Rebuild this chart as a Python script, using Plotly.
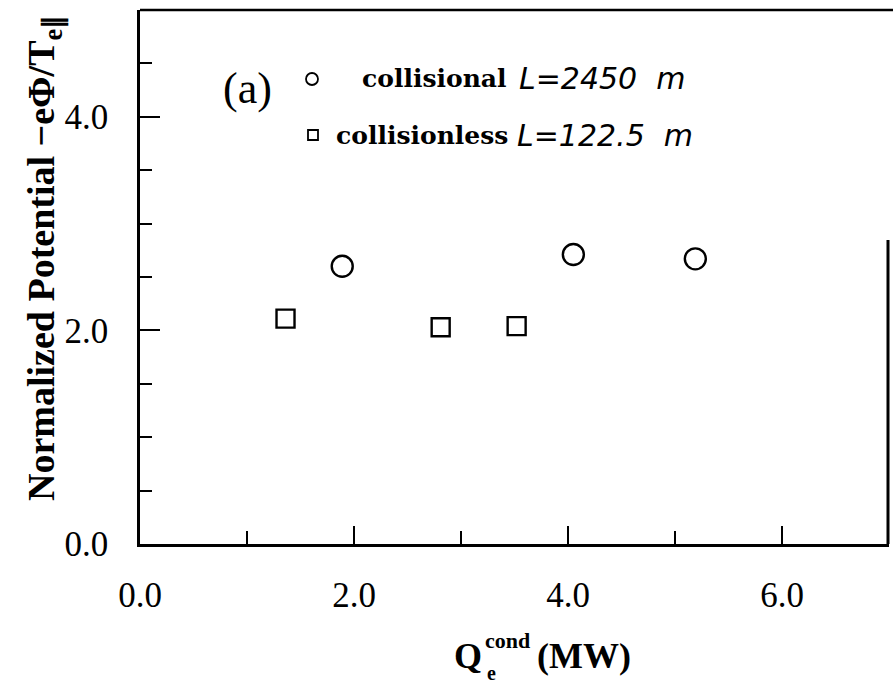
import plotly.graph_objects as go

# Data
coll_x = [1.89, 4.05, 5.19]
coll_y = [2.60, 2.71, 2.67]
colless_x = [1.36, 2.81, 3.52]
colless_y = [2.11, 2.03, 2.04]

x_ticks = [0, 2, 4, 6]
x_labels = ["0.0", "2.0", "4.0", "6.0"]
y_ticks = [0, 2, 4]
y_labels = ["0.0", "2.0", "4.0"]

W, H = 893, 687
L, R, T, B = 140, 4, 10, 143
PW, PH = W - L - R, H - T - B


def px(xp):
    return (xp - L) / PW


def py(yp):
    return (H - B - yp) / PH


fig = go.Figure()
fig.add_trace(go.Scatter(
    x=coll_x, y=coll_y, mode="markers", name="collisional",
    marker=dict(symbol="circle-open", size=21, color="black", line=dict(width=2.4, color="black")),
))
fig.add_trace(go.Scatter(
    x=colless_x, y=colless_y, mode="markers", name="collisionless",
    marker=dict(symbol="square-open", size=18, color="black", line=dict(width=2.4, color="black")),
))

tickfont = dict(family="Liberation Serif", size=35, color="black")

fig.update_xaxes(
    range=[0, 7], showline=True, linewidth=2.5, linecolor="black", mirror=False,
    showgrid=False, zeroline=False,
    tickmode="array", tickvals=x_ticks, ticktext=x_labels,
    ticks="inside", ticklen=18, tickwidth=2, tickcolor="black",
    minor=dict(dtick=1, ticks="inside", ticklen=13, tickwidth=2, tickcolor="black"),
    tickfont=tickfont, ticklabelstandoff=18,
)
fig.update_yaxes(
    range=[0, 5], showline=True, linewidth=2.5, linecolor="black", mirror=False,
    showgrid=False, zeroline=False,
    tickmode="array", tickvals=y_ticks, ticktext=y_labels,
    ticks="inside", ticklen=20, tickwidth=2, tickcolor="black",
    minor=dict(dtick=0.5, ticks="inside", ticklen=12, tickwidth=2, tickcolor="black"),
    tickfont=tickfont, ticklabelstandoff=22,
)

shapes = [
    # top frame line (runs to the image edge)
    dict(type="line", xref="paper", yref="paper", x0=0, x1=px(893), y0=1, y1=1,
         line=dict(color="black", width=2.5)),
    # partial right frame line
    dict(type="line", xref="paper", yref="paper", x0=px(888), x1=px(888), y0=0, y1=py(240),
         line=dict(color="black", width=3)),
    # legend symbols
    dict(type="circle", xref="paper", yref="paper",
         x0=px(306), x1=px(318), y0=py(85), y1=py(73),
         line=dict(color="black", width=1.8)),
    dict(type="rect", xref="paper", yref="paper",
         x0=px(308), x1=px(318), y0=py(140), y1=py(130),
         line=dict(color="black", width=1.8)),
]

serif_b = dict(family="DejaVu Serif", size=25, color="black")
ital = dict(family="DejaVu Sans", size=30, color="black")

annotations = [
    dict(text="(a)", x=px(221), y=py(88), xanchor="left", yanchor="middle",
         font=dict(family="Liberation Serif", size=44, color="black")),
    dict(text="<b>collisional</b>", x=px(360), y=py(79), xanchor="left", yanchor="middle", font=serif_b),
    dict(text="<i>L=2450  m</i>", x=px(517), y=py(79), xanchor="left", yanchor="middle", font=ital),
    dict(text="<b>collisionless</b>", x=px(334), y=py(135), xanchor="left", yanchor="middle", font=serif_b),
    dict(text="<i>L=122.5  m</i>", x=px(515), y=py(135), xanchor="left", yanchor="middle", font=ital),
    # y-axis title
    dict(text="<b>Normalized Potential −eΦ/T<sub>e∥</sub></b>", x=px(44), y=py(258),
         xanchor="center", yanchor="middle", textangle=-90,
         font=dict(family="Liberation Serif", size=38, color="black")),
    # x-axis title pieces
    dict(text="<b>Q</b>", x=px(484), y=py(656), xanchor="right", yanchor="middle",
         font=dict(family="Liberation Serif", size=36, color="black")),
    dict(text="<b>cond</b>", x=px(483), y=py(640), xanchor="left", yanchor="middle",
         font=dict(family="Liberation Serif", size=22, color="black")),
    dict(text="<b>e</b>", x=px(485), y=py(673), xanchor="left", yanchor="middle",
         font=dict(family="Liberation Serif", size=20, color="black")),
    dict(text="<b>(MW)</b>", x=px(535), y=py(656), xanchor="left", yanchor="middle",
         font=dict(family="Liberation Serif", size=36, color="black")),
]
for a in annotations:
    a.update(xref="paper", yref="paper", showarrow=False)

fig.update_layout(
    width=W, height=H, margin=dict(l=L, r=R, t=T, b=B),
    paper_bgcolor="white", plot_bgcolor="white",
    showlegend=False, shapes=shapes, annotations=annotations,
)

fig.write_html("out.html")
